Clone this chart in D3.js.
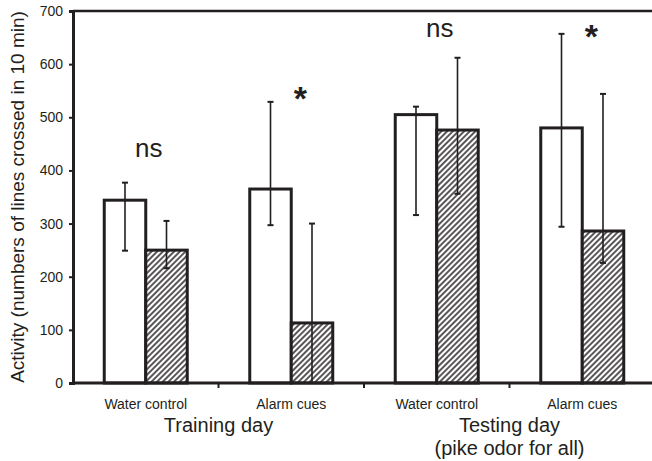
<!DOCTYPE html>
<html>
<head>
	<meta charset="utf-8">
	<script src="https://cdn.jsdelivr.net/npm/d3@7"></script>
	<style>
		body { margin: 0; background: #fff; }
		text { font-family: "Liberation Sans", Arial, sans-serif; fill: #231f20; }
	</style>
</head>
<body>
<div id="chart"></div>
<script>

// groups along the x axis
var groups = ["Training day|Water control", "Training day|Alarm cues", "Testing day|Water control", "Testing day|Alarm cues"];
var catLabels = ["Water control", "Alarm cues", "Water control", "Alarm cues"];

// white bars and hatched bars, with upper / lower whisker ends
var whiteVals = [344, 365, 505, 480];
var whiteHi   = [377, 529, 520, 657];
var whiteLo   = [249, 297, 316, 294];

var hatchVals = [250, 113, 476, 286];
var hatchHi   = [305, 300, 612, 544];
var hatchLo   = [216, 0, 356, 226];

var marks = ["ns", "*", "ns", "*"];
var yTicks = [0, 100, 200, 300, 400, 500, 600, 700];

var W = 652, H = 461;
var ink = "#231f20";

var svg = d3.select("#chart").append("svg").attr("width", W).attr("height", H);

var x = d3.scaleBand().domain(groups).range([73, 655]);
var y = d3.scaleLinear().domain([0, 700]).range([383, 11]);
var barW = 41.5;

// hatch pattern
var hs = 4;
var pat = svg.append("defs").append("pattern")
	.attr("id", "hatch")
	.attr("patternUnits", "userSpaceOnUse")
	.attr("width", hs).attr("height", hs)
	.attr("patternTransform", "rotate(45)");
pat.append("rect").attr("width", hs).attr("height", hs).attr("fill", "#fff");
pat.append("line").attr("x1", 1).attr("y1", 0).attr("x2", 1).attr("y2", hs)
	.attr("stroke", ink).attr("stroke-width", 1.5);

// top frame line
svg.append("line").attr("x1", 73).attr("x2", W).attr("y1", y(700)).attr("y2", y(700))
	.attr("stroke", ink).attr("stroke-width", 2.5);

// white bars
svg.selectAll(".wbar").data(groups).enter().append("rect")
	.attr("class", "wbar")
	.attr("x", function(d) { return x(d) + x.bandwidth() / 2 - barW; })
	.attr("y", function(d, i) { return y(whiteVals[i]); })
	.attr("width", barW)
	.attr("height", function(d, i) { return y(0) - y(whiteVals[i]); })
	.attr("fill", "#fff").attr("stroke", ink).attr("stroke-width", 3);

// hatched bars
svg.selectAll(".hbar").data(groups).enter().append("rect")
	.attr("class", "hbar")
	.attr("x", function(d) { return x(d) + x.bandwidth() / 2; })
	.attr("y", function(d, i) { return y(hatchVals[i]); })
	.attr("width", barW)
	.attr("height", function(d, i) { return y(0) - y(hatchVals[i]); })
	.attr("fill", "url(#hatch)").attr("stroke", ink).attr("stroke-width", 3);

// error bars
function errBars(hi, lo, offset) {
	var g = svg.append("g").attr("stroke", ink).attr("stroke-width", 1.6);
	groups.forEach(function(d, i) {
		var cx = x(d) + x.bandwidth() / 2 + offset;
		g.append("line").attr("x1", cx).attr("x2", cx).attr("y1", y(hi[i])).attr("y2", y(lo[i]));
		g.append("line").attr("x1", cx - 3).attr("x2", cx + 3).attr("y1", y(hi[i])).attr("y2", y(hi[i])).attr("stroke-width", 2);
		if (lo[i] > 0)
			g.append("line").attr("x1", cx - 3).attr("x2", cx + 3).attr("y1", y(lo[i])).attr("y2", y(lo[i])).attr("stroke-width", 2);
	});
}
errBars(whiteHi, whiteLo, -barW / 2);
errBars(hatchHi, hatchLo, barW / 2);

// y axis
var yAxis = svg.append("g").attr("transform", "translate(73,0)")
	.call(d3.axisLeft(y).tickValues(yTicks).tickSize(4).tickPadding(6));
yAxis.select(".domain").attr("stroke", ink).attr("stroke-width", 3);
yAxis.selectAll(".tick line").attr("stroke", ink).attr("stroke-width", 2);
yAxis.selectAll(".tick text").style("font-size", "14px").style("font-family", "Liberation Sans, Arial, sans-serif").attr("fill", ink);

// x axis
var xAxis = svg.append("g").attr("transform", "translate(0,383)")
	.call(d3.axisBottom(x).tickSize(0).tickFormat(""));
xAxis.select(".domain").attr("stroke", ink).attr("stroke-width", 3).attr("d", "M73,0H" + W);
xAxis.selectAll(".tick").remove();
// tick marks between groups
svg.selectAll(".xt").data(groups.slice(1)).enter().append("line")
	.attr("x1", function(d) { return x(d); }).attr("x2", function(d) { return x(d); })
	.attr("y1", 383).attr("y2", 388)
	.attr("stroke", ink).attr("stroke-width", 2);

// category labels
svg.selectAll(".cat").data(groups).enter().append("text")
	.attr("x", function(d) { return x(d) + x.bandwidth() / 2; })
	.attr("y", 409)
	.attr("text-anchor", "middle")
	.style("font-size", "14px")
	.text(function(d, i) { return catLabels[i]; });

// group labels
svg.append("text").attr("x", x(groups[1])).attr("y", 432).attr("text-anchor", "middle")
	.style("font-size", "20px").text("Training day");
svg.append("text").attr("x", x(groups[3])).attr("y", 432).attr("text-anchor", "middle")
	.style("font-size", "20px").text("Testing day");
svg.append("text").attr("x", x(groups[3])).attr("y", 455).attr("text-anchor", "middle")
	.style("font-size", "20px").text("(pike odor for all)");

// significance marks
var markY = [157, 110, 37, 48];
svg.selectAll(".mark").data(marks).enter().append("text")
	.attr("x", function(d, i) { return x(groups[i]) + (d == "*" ? x.bandwidth() / 2 + 9 : x.bandwidth() / 2 + 3); })
	.attr("y", function(d, i) { return markY[i]; })
	.attr("text-anchor", "middle")
	.style("font-size", function(d) { return d == "*" ? "34px" : "26px"; })
	.style("font-weight", function(d) { return d == "*" ? "bold" : "normal"; })
	.text(function(d) { return d; });

// y title
svg.append("text")
	.attr("transform", "translate(24,197) rotate(-90)")
	.attr("text-anchor", "middle")
	.style("font-size", "19px")
	.text("Activity (numbers of lines crossed in 10 min)");

</script>
</body>
</html>
